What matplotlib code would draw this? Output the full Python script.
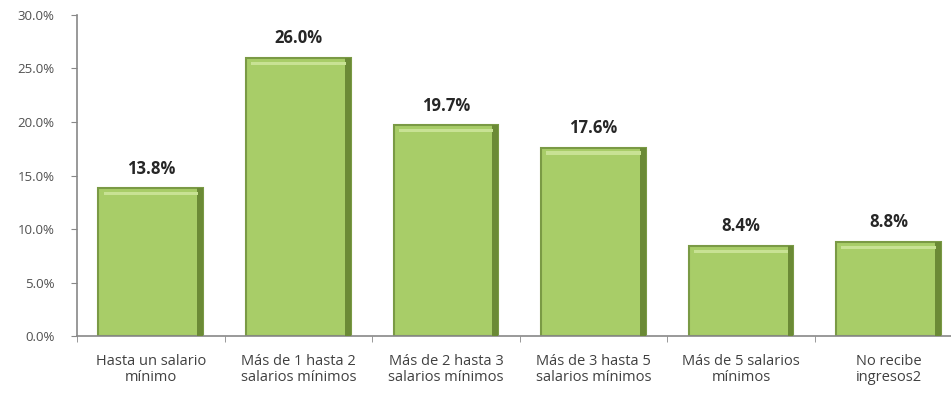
import matplotlib.pyplot as plt
import numpy as np

categorias = ["Hasta un salario\nmínimo", "Más de 1 hasta 2\nsalarios mínimos",
              "Más de 2 hasta 3\nsalarios mínimos", "Más de 3 hasta 5\nsalarios mínimos",
              "Más de 5 salarios\nmínimos", "No recibe\ningresos2"]
valores = [13.8, 26.0, 19.7, 17.6, 8.4, 8.8]
y_ticks = [0, 5, 10, 15, 20, 25, 30]

plt.rcParams['font.family'] = ['Open Sans', 'DejaVu Sans']

fig = plt.figure(figsize=(9.51, 4.04), dpi=100)
ax = fig.add_axes([0.081, 0.168, 0.931, 0.795])

x = np.arange(len(valores))
ancho = 0.71
# bar body with darker border for a bevel look
ax.bar(x, valores, width=ancho, color='#a8cd68', edgecolor='#7a9a45', linewidth=1.5, zorder=2)
# darker right side shadow
ax.bar(x + ancho / 2 - 0.02, valores, width=0.04, color='#6b8a36', linewidth=0, zorder=3)
# light top highlight
ax.bar(x, [0.3] * len(valores), bottom=np.array(valores) - 0.65, width=ancho - 0.07,
       color='#c8e294', linewidth=0, zorder=3)

for xi, v in zip(x, valores):
    ax.text(xi, v + 1.0, f"{v:.1f}%", ha='center', va='bottom', fontsize=12,
            fontweight='bold', color='#262626')

ax.set_xlim(-0.5, len(valores) - 0.5)
ax.set_ylim(0, 30)
ax.set_yticks(y_ticks)
ax.set_yticklabels([f"{t:.1f}%" for t in y_ticks], fontsize=9.5, color='#505050')
ax.set_xticks(x)
ax.set_xticklabels(categorias, fontsize=10.5, color='#404040', linespacing=1.05)
ax.tick_params(axis='x', length=0, pad=13)
ax.set_xticks(np.arange(-0.5, len(valores), 1), minor=True)
ax.tick_params(axis='x', which='minor', length=4, color='#888888', direction='out')
ax.tick_params(axis='y', length=4, color='#888888', direction='out', pad=12)

for s in ['top', 'right']:
    ax.spines[s].set_visible(False)
for s in ['left', 'bottom']:
    ax.spines[s].set_color('#888888')
    ax.spines[s].set_linewidth(1.2)

plt.savefig('out.png', dpi=100)
